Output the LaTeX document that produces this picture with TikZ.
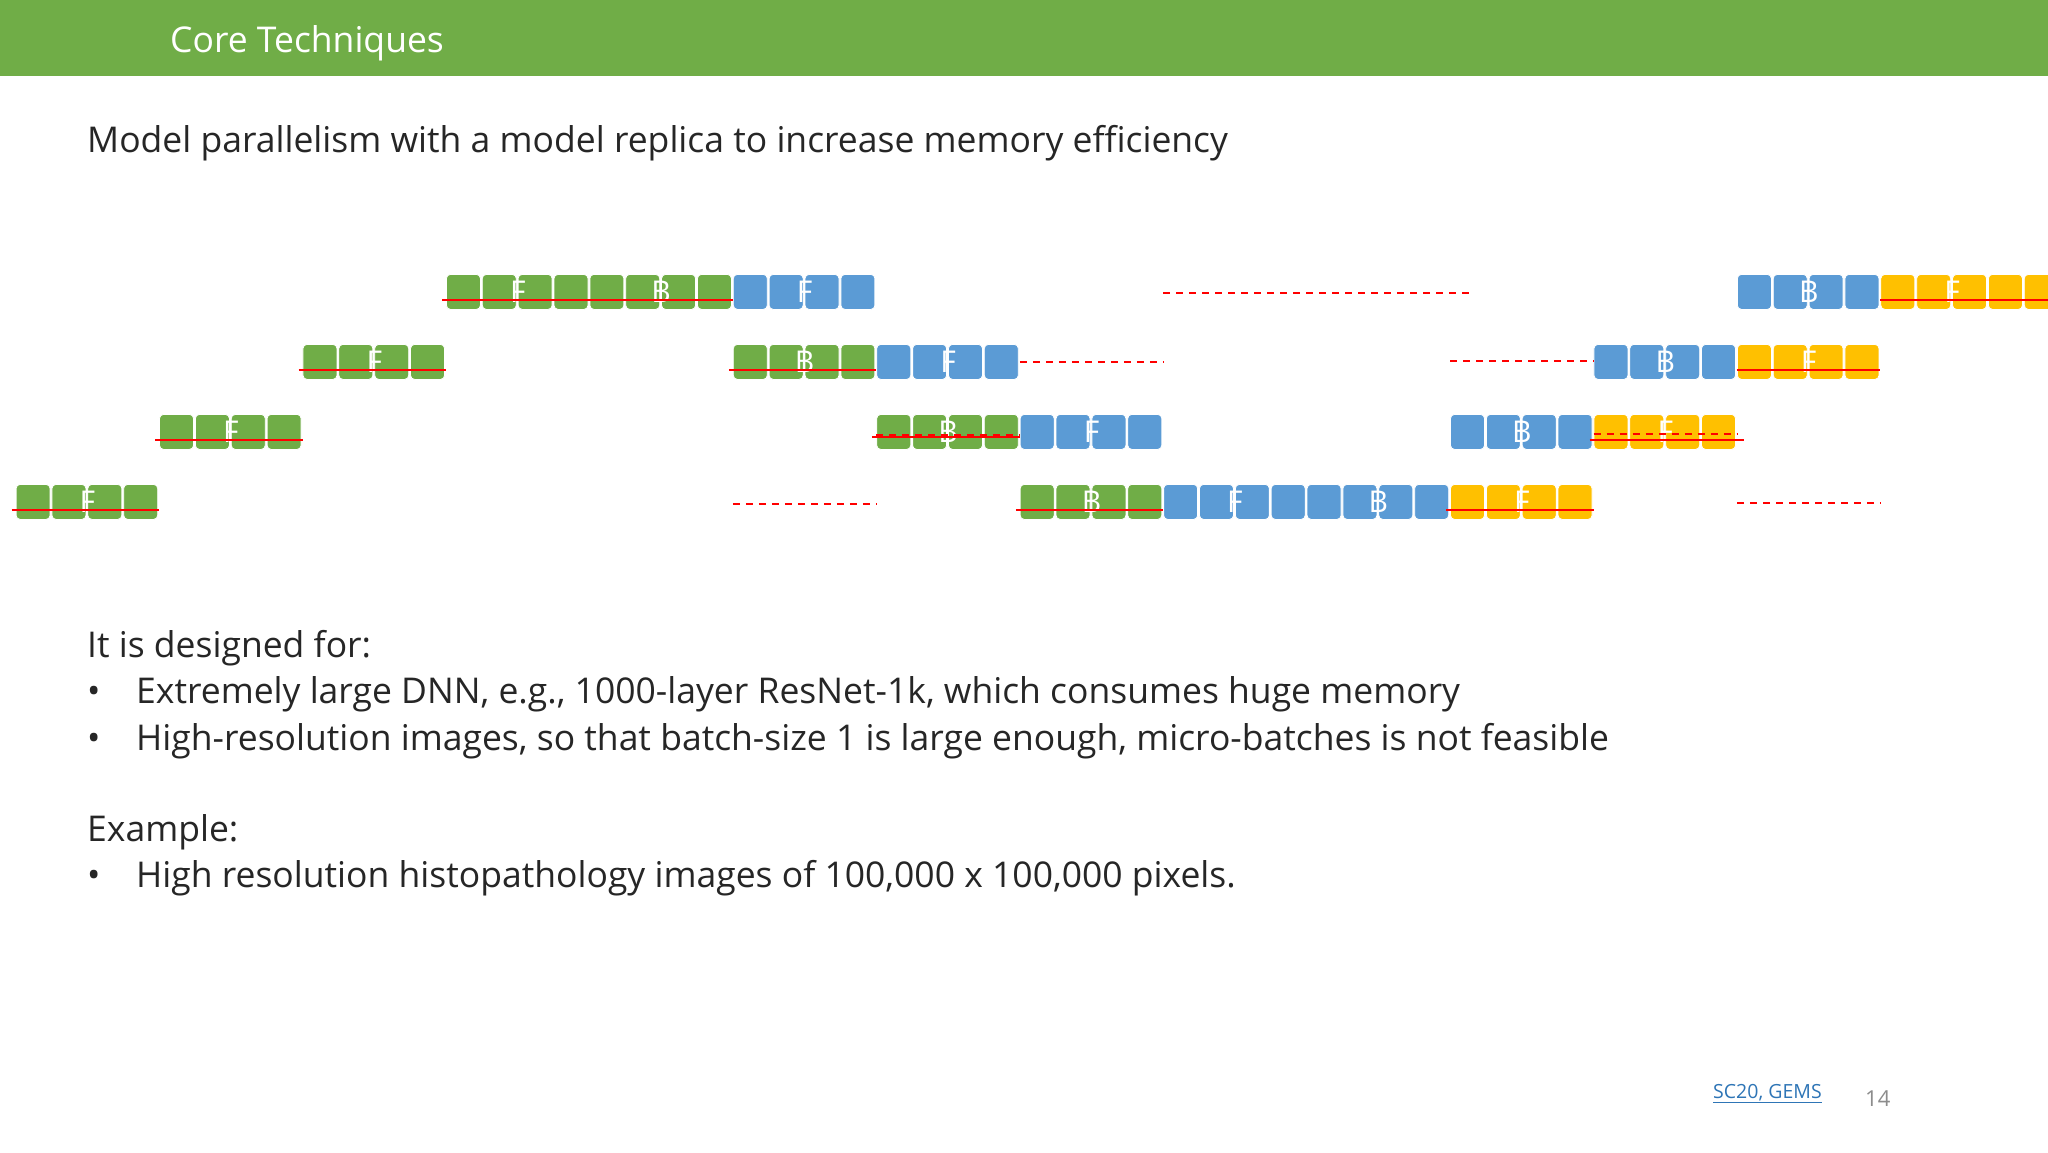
\documentclass[tikz,border=0pt]{standalone}
\usepackage{fontspec}
\setmainfont{Open Sans}
\definecolor{hdr}{HTML}{70AD47}
\definecolor{gblk}{HTML}{70AD47}
\definecolor{bblk}{HTML}{5B9BD5}
\definecolor{yblk}{HTML}{FFC000}
\definecolor{lnk}{HTML}{2E75B6}
\tikzset{
  blk/.style={fill=#1,draw=white,line width=0.8pt,rounded corners=4pt,minimum width=34pt,minimum height=35pt,inner sep=0pt,anchor=north west},
  lett/.style={text=white,font=\fontsize{30}{30}\selectfont,inner sep=0pt},
  redsolid/.style={draw=red,line width=2pt},
  reddash/.style={draw=red,line width=2pt,dash pattern=on 7pt off 6pt},
  txt/.style={anchor=base west,inner sep=0pt,font=\fontsize{35.5}{40}\selectfont,text=black!85}
}
\newcommand{\cx}[1]{15.7+35.86*#1}
\newcommand{\ry}[1]{274+70*(#1-1)}
% \grp{name}{row}{startcol}{color}{letter}
\newcommand{\grp}[5]{%
  \foreach \k in {0,1,2,3}{\node[blk=#4] (#1\k) at ({\cx{(#3+\k)}},{\ry{#2}}) {};}
  \node[lett] (#1L) at ({\cx{(#3+2)}},{\ry{#2}+18}) {#5};
}
\newcommand{\sline}[4]{\path[redsolid] ({\cx{#2}-4},{\ry{#1}+26+#4}) coordinate (s#1#2a) -- ({\cx{#3}},{\ry{#1}+26+#4}) coordinate (s#1#2b);}
\newcommand{\dline}[4]{\path[reddash] ({\cx{#2}},{\ry{#1}+#4}) coordinate (d#1#2a) -- ({\cx{#3}},{\ry{#1}+#4}) coordinate (d#1#2b);}
\begin{document}
\begin{tikzpicture}[x=1pt,y=-1pt]
\useasboundingbox (0,0) rectangle (2048,1152);
\fill[white] (0,0) rectangle (2048,1152);
% row 1 (extra block clipped at right edge)
\begin{scope}
\clip (0,0) rectangle (2048,1152);
\node[blk=yblk] (rex) at ({\cx{56}},{\ry{1}}) {};
\end{scope}
\fill[hdr] (0,0) rectangle (2048,76);
\node[anchor=west,inner sep=0pt,text=white,font=\fontsize{35.5}{40}\selectfont] (title) at (170,43) {Core Techniques};
\node[txt] (sub) at (87,152) {Model parallelism with a model replica to increase memory efficiency};
\grp{ra}{1}{12}{gblk}{F}\grp{rb}{1}{16}{gblk}{B}\grp{rc}{1}{20}{bblk}{F}
\grp{rd}{1}{48}{bblk}{B}\grp{re}{1}{52}{yblk}{F}
% row 2
\grp{qa}{2}{8}{gblk}{F}\grp{qb}{2}{20}{gblk}{B}\grp{qc}{2}{24}{bblk}{F}
\grp{qd}{2}{44}{bblk}{B}\grp{qe}{2}{48}{yblk}{F}
% row 3
\grp{pa}{3}{4}{gblk}{F}\grp{pb}{3}{24}{gblk}{B}\grp{pc}{3}{28}{bblk}{F}
\grp{pd}{3}{40}{bblk}{B}\grp{pe}{3}{44}{yblk}{F}
% row 4
\grp{oa}{4}{0}{gblk}{F}\grp{ob}{4}{28}{gblk}{B}\grp{oc}{4}{32}{bblk}{F}
\grp{od}{4}{36}{bblk}{B}\grp{oe}{4}{40}{yblk}{F}
% solid red lines
\sline{1}{12}{20}{0}\sline{1}{52.1}{58}{0}
\sline{2}{8}{12}{0}\sline{2}{20}{24}{0}\sline{2}{48.1}{52}{0}
\sline{3}{4}{8}{0}\sline{3}{24}{28}{-3}\sline{3}{44}{48.2}{0}
\sline{4}{0}{4}{0}\sline{4}{28}{32}{0}\sline{4}{40}{44}{0}
% dashed overlays
\dline{3}{24}{28}{21}\dline{3}{44}{48}{20}
% dashed gaps
\dline{1}{32}{40.6}{19}
\dline{2}{28}{32}{18}\dline{2}{40}{44}{17}
\dline{4}{20}{24}{20}\dline{4}{48}{52}{19}
% text
\node[txt] (t1) at (87,657) {It is designed for:};
\node[txt] (b1) at (87,703) {•};
\node[txt] (t2) at (136,703) {Extremely large DNN, e.g., 1000-layer ResNet-1k, which consumes huge memory};
\node[txt] (b2) at (87,750) {•};
\node[txt] (t3) at (136,750) {High-resolution images, so that batch-size 1 is large enough, micro-batches is not feasible};
\node[txt] (t4) at (87,841) {Example:};
\node[txt] (b3) at (87,887) {•};
\node[txt] (t5) at (136,887) {High resolution histopathology images of 100,000 x 100,000 pixels.};
\node[anchor=base west,inner sep=0pt,text=lnk,font=\fontsize{19.5}{22}\selectfont] (ref) at (1713,1098) {\underline{SC20, GEMS}};
\node[anchor=base west,inner sep=0pt,text=black!45,font=\fontsize{22}{24}\selectfont] (pg) at (1865,1106) {14};
\end{tikzpicture}
\end{document}
